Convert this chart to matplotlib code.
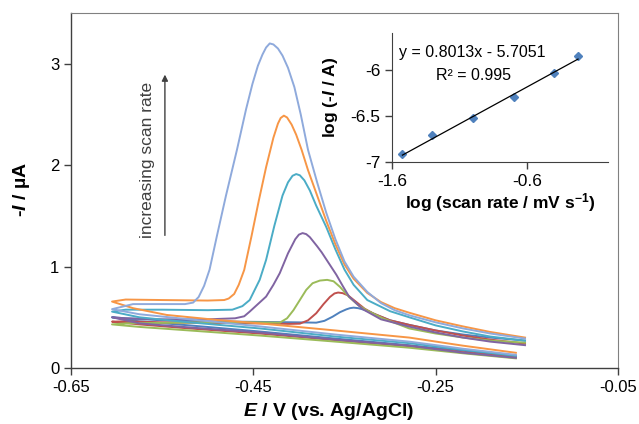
import matplotlib
matplotlib.use("Agg")
import matplotlib.pyplot as plt

plt.rcParams['font.family'] = ['Liberation Sans', 'DejaVu Sans']
plt.rcParams['axes.unicode_minus'] = False
plt.rcParams['mathtext.fontset'] = 'custom'
plt.rcParams['mathtext.rm'] = 'Liberation Sans:bold'
plt.rcParams['mathtext.it'] = 'Liberation Sans:italic:bold'
plt.rcParams['mathtext.bf'] = 'Liberation Sans:bold'

# cyclic voltammograms, one per scan rate (lower branch then upper branch)
e_blue = [-0.162, -0.22, -0.279, -0.36, -0.443, -0.52, -0.575, -0.605,
          -0.59, -0.55, -0.5, -0.45, -0.4, -0.381, -0.372, -0.363, -0.355, -0.348, -0.344,
          -0.34, -0.335, -0.33, -0.322, -0.315, -0.3, -0.279, -0.25, -0.22, -0.19, -0.152]
i_blue = [0.115, 0.17, 0.225, 0.29, 0.36, 0.42, 0.46, 0.50,
          0.49, 0.47, 0.46, 0.455, 0.45, 0.447, 0.465, 0.506, 0.55, 0.578, 0.59,
          0.595, 0.59, 0.578, 0.553, 0.523, 0.47, 0.425, 0.37, 0.33, 0.30, 0.27]

e_red = [-0.162, -0.22, -0.279, -0.36, -0.443, -0.52, -0.575, -0.605,
         -0.59, -0.55, -0.5, -0.45, -0.41, -0.399, -0.39, -0.381, -0.373, -0.366, -0.361,
         -0.357, -0.352, -0.346, -0.337, -0.328, -0.319, -0.3, -0.279, -0.25, -0.22, -0.19, -0.152]
i_red = [0.105, 0.155, 0.215, 0.275, 0.34, 0.39, 0.43, 0.457,
         0.46, 0.45, 0.445, 0.44, 0.435, 0.437, 0.47, 0.54, 0.63, 0.70, 0.735,
         0.744, 0.738, 0.715, 0.65, 0.585, 0.54, 0.47, 0.425, 0.37, 0.32, 0.28, 0.24]

e_green = [-0.162, -0.22, -0.279, -0.36, -0.443, -0.52, -0.575, -0.605,
           -0.59, -0.55, -0.5, -0.45, -0.421, -0.413, -0.406, -0.399, -0.392, -0.385, -0.377,
           -0.369, -0.362, -0.355, -0.345, -0.335, -0.326, -0.308, -0.279, -0.25, -0.22,
           -0.19, -0.152]
i_green = [0.095, 0.145, 0.20, 0.26, 0.32, 0.37, 0.405, 0.43,
           0.44, 0.445, 0.45, 0.45, 0.447, 0.49, 0.57, 0.67, 0.77, 0.836, 0.862,
           0.869, 0.855, 0.80, 0.70, 0.62, 0.57, 0.49, 0.39, 0.34, 0.30,
           0.27, 0.25]

e_purple = [-0.162, -0.22, -0.279, -0.36, -0.443, -0.52, -0.575, -0.605,
            -0.59, -0.55, -0.5, -0.47, -0.46, -0.454, -0.445, -0.436, -0.428, -0.421, -0.412,
            -0.404, -0.4, -0.396, -0.392, -0.388, -0.38, -0.375, -0.367, -0.359, -0.352,
            -0.345, -0.33, -0.31, -0.279, -0.25, -0.22, -0.19, -0.152]
i_purple = [0.10, 0.15, 0.22, 0.28, 0.35, 0.40, 0.44, 0.50,
            0.49, 0.48, 0.48, 0.49, 0.51, 0.556, 0.63, 0.704, 0.82, 0.935, 1.13,
            1.27, 1.315, 1.33, 1.32, 1.29, 1.2, 1.14, 1.03, 0.92, 0.81,
            0.704, 0.58, 0.48, 0.408, 0.35, 0.30, 0.26, 0.225]

e_teal = [-0.162, -0.22, -0.279, -0.36, -0.443, -0.52, -0.575, -0.605,
          -0.59, -0.55, -0.5, -0.473, -0.462, -0.454, -0.443, -0.436, -0.427, -0.418, -0.412,
          -0.407, -0.403, -0.399, -0.394, -0.388, -0.381, -0.37, -0.36, -0.35, -0.34, -0.325,
          -0.3, -0.279, -0.25, -0.22, -0.19, -0.152]
i_teal = [0.12, 0.18, 0.245, 0.31, 0.39, 0.45, 0.50, 0.556,
          0.575, 0.575, 0.57, 0.575, 0.61, 0.67, 0.87, 1.066, 1.4, 1.7, 1.83,
          1.895, 1.912, 1.9, 1.85, 1.75, 1.6, 1.39, 1.17, 0.97, 0.82, 0.67,
          0.56, 0.50, 0.42, 0.36, 0.31, 0.27]

e_orange = [-0.162, -0.22, -0.279, -0.36, -0.443, -0.49, -0.545, -0.582, -0.605,
            -0.59, -0.55, -0.5, -0.482, -0.477, -0.471, -0.466, -0.46, -0.452, -0.444, -0.436,
            -0.428, -0.423, -0.42, -0.4165, -0.413, -0.408, -0.403, -0.397, -0.39, -0.38, -0.37,
            -0.36, -0.35, -0.34, -0.325, -0.31, -0.295, -0.279, -0.25, -0.22, -0.19, -0.152]
i_orange = [0.15, 0.22, 0.30, 0.37, 0.44, 0.474, 0.523, 0.59, 0.655,
            0.675, 0.67, 0.665, 0.67, 0.685, 0.73, 0.82, 0.967, 1.3, 1.65, 1.98,
            2.27, 2.41, 2.465, 2.488, 2.47, 2.4, 2.3, 2.15, 1.95, 1.7, 1.45,
            1.22, 1.02, 0.88, 0.74, 0.65, 0.59, 0.545, 0.47, 0.41, 0.355, 0.30]

e_light = [-0.162, -0.22, -0.279, -0.36, -0.443, -0.52, -0.575, -0.605,
           -0.582, -0.55, -0.525, -0.516, -0.51, -0.504, -0.498, -0.49, -0.48, -0.468, -0.458,
           -0.451, -0.445, -0.44, -0.436, -0.432, -0.428, -0.423, -0.418, -0.412, -0.405, -0.398,
           -0.39, -0.38, -0.37, -0.36, -0.35, -0.34, -0.325, -0.31, -0.295, -0.279, -0.25,
           -0.22, -0.19, -0.152]
i_light = [0.13, 0.19, 0.26, 0.33, 0.41, 0.48, 0.53, 0.58,
           0.63, 0.63, 0.63, 0.645, 0.7, 0.81, 0.97, 1.3, 1.7, 2.15, 2.55,
           2.8, 2.98, 3.09, 3.16, 3.2, 3.19, 3.15, 3.08, 2.96, 2.77, 2.5,
           2.15, 1.83, 1.53, 1.27, 1.05, 0.9, 0.75, 0.64, 0.57, 0.52, 0.45,
           0.39, 0.34, 0.29]

# inset: log peak current vs log scan rate
log_rate = [-1.523, -1.301, -1.0, -0.699, -0.398, -0.222]
log_ip = [-6.914, -6.702, -6.527, -6.294, -6.029, -5.846]
fit_slope = 0.8013
fit_icept = -5.7051

main_xticks = [-0.65, -0.45, -0.25, -0.05]
main_yticks = [0, 1, 2, 3]
inset_xticks = [-1.6, -0.6]
inset_yticks = [-7, -6.5, -6]

fig = plt.figure(figsize=(6.39, 4.24), dpi=100)
ax = fig.add_axes([71/639, 56/424, 547/639, 355/424])

curves = [
    (e_blue, i_blue, '#4F81BD'),
    (e_red, i_red, '#C0504D'),
    (e_green, i_green, '#9BBB59'),
    (e_purple, i_purple, '#8064A2'),
    (e_teal, i_teal, '#4BACC6'),
    (e_orange, i_orange, '#F79646'),
    (e_light, i_light, '#8FAADC'),
]
for e, cur, col in curves:
    ax.plot(e, cur, color=col, lw=1.4, solid_joinstyle='round')

ax.set_xlim(-0.65, -0.05)
ax.set_ylim(0, 3.5)
ax.set_xticks(main_xticks, [f"{t:.2f}" for t in main_xticks])
ax.set_yticks(main_yticks, [str(t) for t in main_yticks])
ax.tick_params(labelsize=12, colors='#404040', length=5, width=1, labelcolor='black')
for s in ['left', 'bottom']:
    ax.spines[s].set_color('#404040')
    ax.spines[s].set_linewidth(1)
for s in ['top', 'right']:
    ax.spines[s].set_color('#808080')
    ax.spines[s].set_linewidth(0.8)

fig.text(22/639, 1 - 190/424, r'-$\mathit{I}$ / µA', rotation=90, ha='center', va='center',
         fontsize=14, fontweight='bold')
fig.text(329/639, 1 - 412/424, r'$\mathit{E}$ / V (vs. Ag/AgCl)', ha='center', va='center',
         fontsize=14, fontweight='bold')

ax.annotate('', xy=(-0.547, 2.92), xytext=(-0.547, 1.28),
            arrowprops=dict(arrowstyle='-|>', color='#404040', lw=1, mutation_scale=9))
ax.text(-0.5657, 2.05, 'increasing scan rate', rotation=90, ha='center', va='center',
        fontsize=12.5, color='#404040')

# inset
ax2 = fig.add_axes([392/639, 1 - 162/424, 216/639, 129/424])
ax2.patch.set_alpha(0)
ax2.plot(log_rate, log_ip, linestyle='none', marker='D', ms=4.5, color='#4F81BD')
fit_x = [log_rate[0], log_rate[-1]]
ax2.plot(fit_x, [fit_slope * x + fit_icept for x in fit_x], color='black', lw=0.9)
ax2.set_xlim(-1.6, 0)
ax2.set_ylim(-7, -5.6)
ax2.set_xticks(inset_xticks, [str(t) for t in inset_xticks])
ax2.set_yticks(inset_yticks, [f"{t:g}" for t in inset_yticks])
ax2.tick_params(labelsize=12.5, colors='#404040', length=5, width=1, labelcolor='black')
ax2.spines['top'].set_visible(False)
ax2.spines['right'].set_visible(False)
for s in ['left', 'bottom']:
    ax2.spines[s].set_color('#404040')

fig.text(472/639, 1 - 53/424, 'y = 0.8013x - 5.7051', ha='center', va='center', fontsize=11.5)
fig.text(473/639, 1 - 75/424, 'R² = 0.995', ha='center', va='center', fontsize=11.5)
fig.text(330/639, 1 - 97/424, r'log (-$\mathit{I}$ / A)', rotation=90, ha='center', va='center',
         fontsize=12.5, fontweight='bold')
fig.text(500/639, 1 - 203/424, r'log (scan rate / mV s$^{-1}$)', ha='center', va='center',
         fontsize=12.5, fontweight='bold')

fig.savefig('out.png', dpi=100)
